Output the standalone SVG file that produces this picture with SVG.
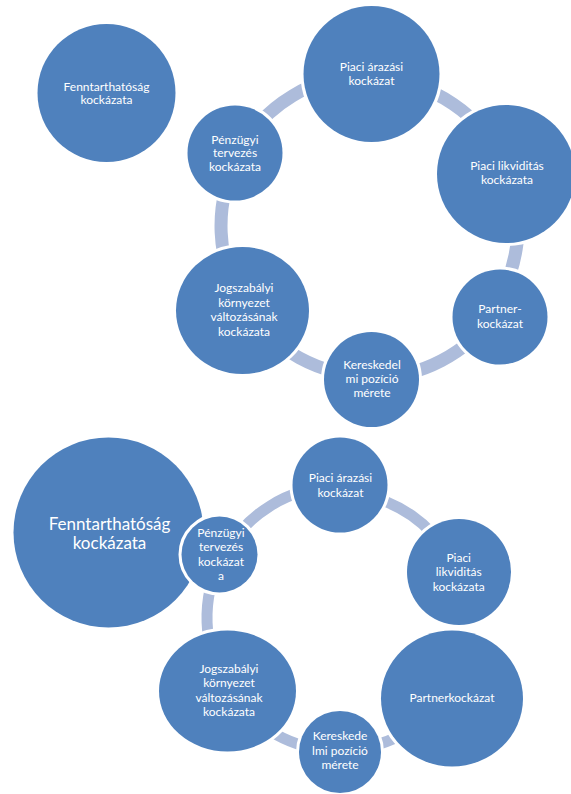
<svg xmlns="http://www.w3.org/2000/svg" width="571" height="794" viewBox="0 0 571 794">
<style>
.n{fill:#4f81bd;stroke:#ffffff;stroke-width:6;paint-order:stroke}
.a{fill:none;stroke:#adbcdb}
.t{fill:#ffffff;font-family:Lato,"Liberation Sans",sans-serif;font-size:12px;text-anchor:middle}
.big{font-size:17px}
</style>
<rect width="571" height="794" fill="#ffffff"/>
<g id="connectors-top" stroke-width="13">
<path class="a" d="M239.4,150 A152,152 0 0 1 365.7,74.1"/>
<path class="a" d="M376.1,79.1 A147,147 0 0 1 505.3,166.2"/>
<path class="a" d="M509.1,175.7 A147,147 0 0 1 492.9,308.2"/>
<path class="a" d="M494,315.3 A152,152 0 0 1 373.7,378"/>
<path class="a" d="M368.4,376 A150,150 0 0 1 246.6,309.9"/>
<path class="a" d="M243.8,305.5 A150,150 0 0 1 237.4,157.9"/>
</g>
<g id="top-fenntarthatosag"><circle class="n" cx="106.5" cy="93" r="69"/><text class="t" x="106.5" y="90.5">Fenntarthatóság</text><text class="t" x="106.5" y="104">kockázata</text></g>
<g id="top-penzugyi"><circle class="n" cx="235" cy="153" r="47.5"/><text class="t" x="235" y="143.5">Pénzügyi</text><text class="t" x="235" y="157">tervezés</text><text class="t" x="235" y="170.5">kockázata</text></g>
<g id="top-arazasi"><circle class="n" cx="371.5" cy="74" r="68"/><text class="t" x="371.5" y="71">Piaci árazási</text><text class="t" x="371.5" y="85">kockázat</text></g>
<g id="top-likviditas"><circle class="n" cx="506" cy="174" r="69"/><text class="t" x="507" y="170">Piaci likviditás</text><text class="t" x="507" y="184.3">kockázata</text></g>
<g id="top-partner"><circle class="n" cx="500" cy="317" r="47.5"/><text class="t" x="500" y="313.3">Partner-</text><text class="t" x="500" y="328.3">kockázat</text></g>
<g id="top-kereskedelmi"><circle class="n" cx="371.5" cy="379.5" r="47.5"/><text class="t" x="372" y="369">Kereskedel</text><text class="t" x="372" y="383.3">mi pozíció</text><text class="t" x="372" y="397.3">mérete</text></g>
<g id="top-jogszabalyi"><ellipse class="n" cx="242.5" cy="310.5" rx="66.5" ry="63.5"/><text class="t" x="244" y="292.3">Jogszabályi</text><text class="t" x="244" y="306.7">környezet</text><text class="t" x="244" y="321">változásának</text><text class="t" x="244" y="335.7">kockázata</text></g>
<g id="bottom-fenntarthatosag"><circle class="n" cx="108.5" cy="532.5" r="95"/><text class="t big" x="109.5" y="530">Fenntarthatóság</text><text class="t big" x="109.5" y="549.3">kockázata</text></g>
<g id="connectors-bottom" stroke-width="11">
<path class="a" d="M223.4,556 A132,132 0 0 1 335.4,486.1"/>
<path class="a" d="M361.7,494.9 A125,125 0 0 1 448.3,555.5"/>
<path class="a" d="M446.8,695.6 A132,132 0 0 1 342.3,750"/>
<path class="a" d="M337.7,751 A133,133 0 0 1 228.5,690.4"/>
<path class="a" d="M226,686.5 A133,133 0 0 1 221.5,557.6"/>
</g>
<g id="bottom-penzugyi"><circle class="n" cx="219.5" cy="554.5" r="38"/><text class="t" x="221" y="536.7">Pénzügyi</text><text class="t" x="221" y="551">tervezés</text><text class="t" x="221" y="566">kockázat</text><text class="t" x="221" y="580">a</text></g>
<g id="bottom-arazasi"><circle class="n" cx="340" cy="485" r="47.5"/><text class="t" x="340.5" y="481.7">Piaci árazási</text><text class="t" x="340.5" y="496.7">kockázat</text></g>
<g id="bottom-likviditas"><ellipse class="n" cx="459" cy="572" rx="52" ry="53"/><text class="t" x="458.7" y="561.7">Piaci</text><text class="t" x="458.7" y="576">likviditás</text><text class="t" x="458.7" y="590.7">kockázata</text></g>
<g id="bottom-partner"><ellipse class="n" cx="452" cy="698.5" rx="71" ry="68"/><text class="t" x="452" y="701.7">Partnerkockázat</text></g>
<g id="bottom-kereskedelmi"><circle class="n" cx="340" cy="752" r="41"/><text class="t" x="340" y="740">Kereskede</text><text class="t" x="340" y="755">lmi pozíció</text><text class="t" x="340" y="769.3">mérete</text></g>
<g id="bottom-jogszabalyi"><ellipse class="n" cx="227.5" cy="691" rx="68.5" ry="60.5"/><text class="t" x="229" y="673.3">Jogszabályi</text><text class="t" x="229" y="687.3">környezet</text><text class="t" x="229" y="701.7">változásának</text><text class="t" x="229" y="716">kockázata</text></g>
</svg>
